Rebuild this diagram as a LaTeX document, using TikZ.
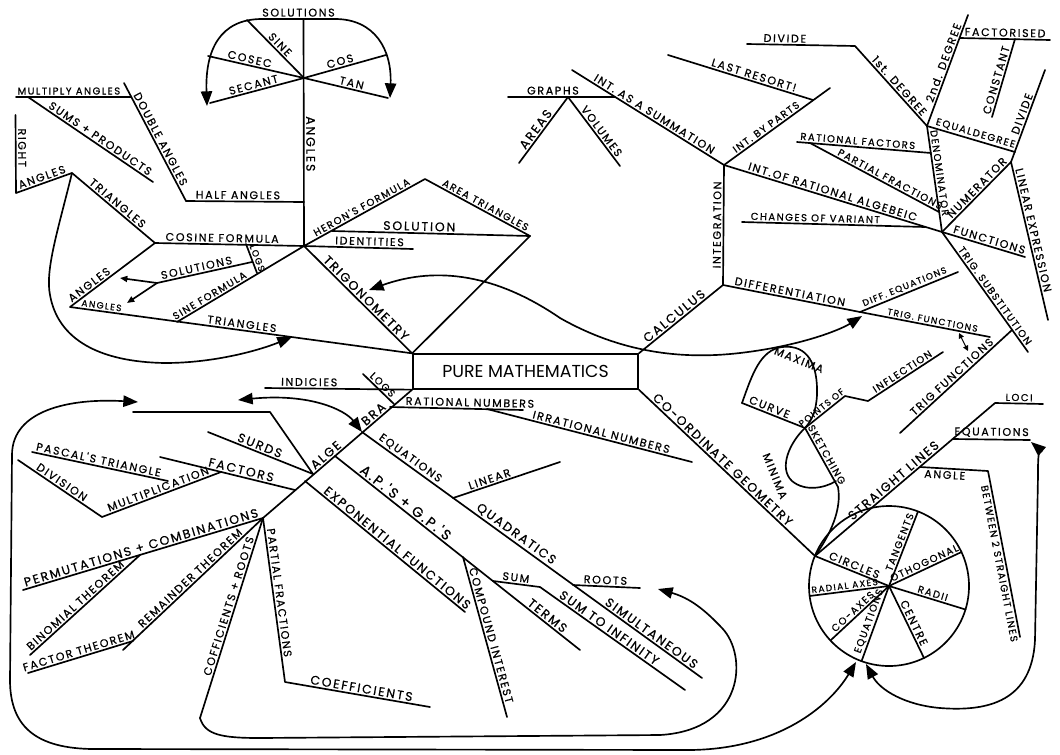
\documentclass[tikz,border=0pt]{standalone}
\usepackage{fontspec}
\newfontfamily\hand[LetterSpace=15,FakeBold=0.6]{Poppins}
\newfontfamily\handplain{Poppins}
\usetikzlibrary{arrows.meta}
\begin{document}
\begin{tikzpicture}[x=0.75pt,y=-0.75pt, line width=1.25pt, line cap=round, line join=round,
  lbl/.style={font=\hand\fontsize{8.3}{9}\selectfont, inner sep=1.2pt, sloped, above},
  md/.style={font=\hand\fontsize{7.5}{8}\selectfont},
  sm/.style={font=\hand\fontsize{6.8}{8}\selectfont},
  bg/.style={font=\hand\fontsize{9.3}{10}\selectfont},
  lg/.style={font=\hand\fontsize{10.5}{11}\selectfont},
  free/.style={font=\hand\fontsize{8.3}{9}\selectfont, inner sep=0pt},
  arr/.style={-{Triangle[length=11pt,width=8.5pt]}},
  arrb/.style={{Triangle[length=11pt,width=8.5pt]}-{Triangle[length=11pt,width=8.5pt]}},
  sarr/.style={-{Triangle[length=5.5pt,width=4.5pt]}}]
\fill[white] (0,0) rectangle (1060,754);
\useasboundingbox (0,0) rectangle (1060,754);

% ---------- centre ----------
\node[draw, minimum width=168.75pt, minimum height=26pt, inner sep=0pt,
      font=\handplain\fontsize{13}{14}\selectfont] (pm) at (525.5,371.5) {PURE MATHEMATICS};

% ---------- trigonometry ----------
\coordinate (T1) at (304,246);
\coordinate (Atop) at (303.5,19);
\coordinate (A1) at (304,78);
\coordinate (Sine) at (247,20);
\coordinate (Cosec) at (208,56);
\coordinate (Secant) at (210,103);
\coordinate (Cos) at (386,55);
\coordinate (Tan) at (388,98);
\coordinate (H1) at (304,202);
\coordinate (H2) at (186,201);
\coordinate (H3) at (124,83);
\coordinate (M1) at (131,97);
\coordinate (M2) at (16,97);
\coordinate (P1) at (28,97);
\coordinate (P2) at (153,182);
\coordinate (C1) at (155,243);
\coordinate (I1) at (413,249);
\coordinate (R1) at (72,173);
\coordinate (R2) at (16,193);
\coordinate (R3) at (15.5,115);
\coordinate (G1) at (70,307);
\coordinate (F1) at (177,322);
\coordinate (L1) at (246,244);
\coordinate (L2) at (257,273);
\coordinate (SO1) at (252,262);
\coordinate (SO2) at (157,283);
\coordinate (SOa) at (120,278);
\coordinate (SOb) at (127,303);
\coordinate (D1) at (425,179);
\coordinate (D2) at (530,236);
\coordinate (S0) at (332,231);
\coordinate (ARt) at (292,337);
\coordinate (FanL) at (207,106);
\coordinate (FanR) at (390,98);

\draw (Atop) -- node[lbl,bg,pos=.55]{ANGLES} (T1);
\draw (A1) -- node[lbl,pos=.5]{SINE} (Sine);
\draw (A1) -- node[lbl,pos=.58]{COSEC} (Cosec);
\draw (A1) -- node[lbl,pos=.52]{SECANT} (Secant);
\draw (A1) -- node[lbl,pos=.46]{COS} (Cos);
\draw (A1) -- node[lbl,pos=.55]{TAN} (Tan);
\draw[arrb] (FanL) .. controls (205,50) and (220,19) .. (262,19) -- node[lbl]{SOLUTIONS} (335,19) .. controls (375,19) and (392,50) .. (FanR);
\draw (H1) -- node[lbl,pos=.56]{HALF ANGLES} (H2);
\draw (H3) -- node[lbl,pos=.5]{DOUBLE ANGLES} (H2);
\draw (M2) -- node[lbl,md,pos=.46]{MULTIPLY ANGLES} (M1);
\draw (P1) -- node[lbl,pos=.55]{SUMS + PRODUCTS} (P2);
\draw (R3) -- node[lbl,pos=.42]{RIGHT} (R2) -- node[lbl,pos=.5]{ANGLES} (R1) -- node[lbl,pos=.5]{TRIANGLES} (C1);
\draw (C1) -- node[lbl,pos=.45]{COSINE FORMULA} (T1) -- node[lbl,pos=.6]{IDENTITIES} (I1);
\draw (T1) -- node[lbl,md,pos=.5]{HERON'S FORMULA} (D1) -- node[lbl,md,pos=.55]{AREA TRIANGLES} (D2) -- (pm.north west);
\draw (S0) -- node[lbl,bg,pos=.44]{SOLUTION} (D2);
\draw (T1) -- node[lbl,bg,pos=.53]{TRIGONOMETRY} (pm.north west);
\draw (C1) -- node[lbl,pos=.73]{ANGLES} (G1) -- node[lbl,sm,pos=.09]{ANGLES} node[lbl,pos=.5]{TRIANGLES} (pm.north west);
\draw (T1) -- node[lbl,md,pos=.72]{SINE FORMULA} (F1);
\draw (L1) -- node[lbl,sm,pos=.55]{LOGS} (L2);
\draw (SO1) -- node[lbl,pos=.57]{SOLUTIONS} (SO2);
\draw[sarr] (SO2) -- (SOa);
\draw[sarr] (SO2) -- (SOb);
\draw[arr] (R1) .. controls (58,230) and (45,270) .. (50,295) .. controls (58,340) and (100,362) .. (165,363) .. controls (215,363) and (260,350) .. (ARt);

% ---------- calculus ----------
\coordinate (I1c) at (723,285);
\coordinate (I2) at (724,165);
\coordinate (U1) at (572,70);
\coordinate (GR0) at (508,97);
\coordinate (GR1) at (615,97);
\coordinate (GA) at (568,97);
\coordinate (AR) at (519,163);
\coordinate (VO) at (620,166);
\coordinate (BP) at (830,88);
\coordinate (LR0) at (668,55);
\coordinate (LR1) at (813,100);
\coordinate (J2) at (942,232);
\coordinate (CV0) at (742,222);
\coordinate (CV1) at (925,227);
\coordinate (DN0) at (927,126);
\coordinate (RF0) at (797,142);
\coordinate (RF1) at (931,153);
\coordinate (PF0) at (810,143);
\coordinate (PF1) at (939,212);
\coordinate (FD1) at (855,46);
\coordinate (DV2) at (747,44);
\coordinate (SD1) at (968,15);
\coordinate (FA0) at (960,38);
\coordinate (FA1) at (1050,40);
\coordinate (CN0) at (1015,39);
\coordinate (CN1) at (992,117);
\coordinate (ED1) at (1015,152);
\coordinate (DV1) at (1045,70);
\coordinate (NU1) at (1011,162);
\coordinate (LE1) at (1048,320);
\coordinate (FN1) at (1025,257);
\coordinate (TS1) at (1028,352);
\coordinate (TF0) at (1012,330);
\coordinate (TF1) at (900,433);
\coordinate (DF1) at (860,312);
\coordinate (DE1) at (958,272);
\coordinate (TG1) at (990,337);
\coordinate (DA0) at (959,333);
\coordinate (DA1) at (968,351);
\coordinate (SC0) at (369,290);
\coordinate (SC1) at (862,316);

\draw (pm.north east) -- node[lbl,bg,pos=.47]{CALCULUS} (I1c) -- node[lbl,pos=.5]{INTEGRATION} (I2);
\draw (I2) -- node[lbl,pos=.48]{INT. AS A SUMMATION} (U1);
\draw (GR0) -- node[lbl,pos=.42]{GRAPHS} (GR1);
\draw (GA) -- node[lbl,bg,pos=.55]{AREAS} (AR);
\draw (GA) -- node[lbl,pos=.55]{VOLUMES} (VO);
\draw (I2) -- node[lbl,md,pos=.43]{INT. BY PARTS} (BP);
\draw (LR0) -- node[lbl,pos=.58]{LAST RESORT!} (LR1);
\draw (I2) -- node[lbl,pos=.49]{INT.OF RATIONAL ALGEBEIC} (J2);
\draw (CV0) -- node[lbl,md,pos=.4]{CHANGES OF VARIANT} (CV1);
\draw (DN0) -- node[lbl,md,pos=.45]{DENOMINATOR} (J2);
\draw (RF0) -- node[lbl,md,pos=.45]{RATIONAL FACTORS} (RF1);
\draw (PF0) -- node[lbl,md,pos=.6]{PARTIAL FRACTIONS} (PF1);
\draw (DN0) -- node[lbl,pos=.45]{1st. DEGREE} (FD1) -- node[lbl,pos=.65]{DIVIDE} (DV2);
\draw (DN0) -- node[lbl,pos=.55]{2nd. DEGREE} (SD1);
\draw (FA0) -- node[lbl,pos=.5]{FACTORISED} (FA1);
\draw (CN0) -- node[lbl,pos=.55]{CONSTANT} (CN1);
\draw (DN0) -- node[lbl,md,pos=.53]{EQUALDEGREE} (ED1);
\draw (DV1) -- node[lbl,pos=.5]{DIVIDE} (NU1);
\draw (J2) -- node[lbl,pos=.57]{NUMERATOR} (NU1) -- node[lbl,pos=.44]{LINEAR EXPRESSION} (LE1);
\draw (J2) -- node[lbl,pos=.55]{FUNCTIONS} (FN1);
\draw (J2) -- node[lbl,md,pos=.56]{TRIG. SUBSTITUTION} (TS1);
\draw (TF0) -- node[lbl,pos=.5]{TRIG FUNCTIONS} (TF1);
\draw (I1c) -- node[lbl,pos=.48]{DIFFERENTIATION} (DF1);
\draw (DF1) -- node[lbl,sm,pos=.48]{DIFF. EQUATIONS} (DE1);
\draw (DF1) -- node[lbl,sm,pos=.55]{TRIG. FUNCTIONS} (TG1);
\draw[line width=.8pt,{Triangle[length=4pt,width=4pt]}-{Triangle[length=4pt,width=4pt]}] (DA0) -- (DA1);
\draw[arrb] (SC0) .. controls (430,268) and (490,270) .. (560,318) .. controls (620,352) and (680,360) .. (740,353) .. controls (800,346) and (840,330) .. (SC1);

% ---------- curve sketching ----------
\coordinate (K0) at (742,403);
\coordinate (X) at (805,428);
\coordinate (SK1) at (838,487);
\coordinate (PI1) at (845,396);
\coordinate (PI2) at (868,401);
\coordinate (PI3) at (943,352);
\coordinate (CI1) at (815,556);
\draw (K0) .. controls (752,375) and (760,350) .. (782,347) .. controls (808,344) and (818,365) .. (817,395) .. controls (816,412) and (812,420) .. (X) .. controls (790,442) and (778,468) .. (792,481) .. controls (805,492) and (825,488) .. (836,481);
\draw (K0) -- node[lbl,pos=.4]{CURVE} (X) -- node[lbl,md,pos=.5]{SKETCHING} (SK1) .. controls (842,510) and (830,535) .. (CI1);
\draw (X) -- node[lbl,sm,pos=.5]{POINTS OF} (PI1) -- (PI2) -- node[lbl,md,pos=.5]{INFLECTION} (PI3);
\node[free,rotate=-22] (maxima) at (799,360) {MAXIMA};
\node[free,rotate=-68] (minima) at (775,476) {MINIMA};

% ---------- co-ordinate geometry ----------
\coordinate (HB) at (889,586);
\coordinate (SpT) at (918,511.5);
\coordinate (SpO) at (961.5,552);
\coordinate (SpR) at (965.5,609.5);
\coordinate (SpCe) at (924,658);
\coordinate (SpE) at (861.6,661);
\coordinate (SpCo) at (830.4,640.5);
\coordinate (SpRa) at (809.6,596);
\coordinate (SL1) at (995,403);
\coordinate (LC1) at (1043,404);
\coordinate (EQ0) at (953,439);
\coordinate (EQ1) at (1030,440);
\coordinate (AB0) at (920,467);
\coordinate (AB1) at (988,471);
\coordinate (AB2) at (1020,637);
\coordinate (RLs) at (1031,442);

\draw (pm.south east) -- node[lbl,bg,pos=.45]{CO-ORDINATE GEOMETRY} (CI1);
\draw (HB) circle[radius=60pt];
\draw (HB) -- node[lbl,pos=.5]{CIRCLES} (CI1);
\draw (HB) -- node[lbl,md,pos=.56]{TANGENTS} (SpT);
\draw (HB) -- node[lbl,md,pos=.52]{OTHOGONAL} (SpO);
\draw (HB) -- node[lbl,md,pos=.55]{RADII} (SpR);
\draw (HB) -- node[lbl,pos=.55]{CENTRE} (SpCe);
\draw (HB) -- node[lbl,md,pos=.5]{EQUATIONS} (SpE);
\draw (HB) -- node[lbl,md,pos=.55]{CO-AXES} (SpCo);
\draw (HB) -- node[lbl,sm,pos=.55]{RADIAL AXES} (SpRa);
\draw (CI1) -- node[lbl,bg,pos=.46]{STRAIGHT LINES} (SL1) -- node[lbl,md,pos=.5]{LOCI} (LC1);
\draw (EQ0) -- node[lbl,pos=.5]{EQUATIONS} (EQ1);
\draw (AB0) -- node[lbl,below,pos=.37]{ANGLE} (AB1) -- node[lbl,md,below,pos=.55]{BETWEEN 2 STRAIGHT LINES} (AB2);
\draw[arrb] (RLs) .. controls (1038,448) and (1038,460) .. (1038,475) -- (1035,640) .. controls (1032,700) and (990,712) .. (940,708) .. controls (905,705) and (880,690) .. (866,664);

% ---------- algebra ----------
\coordinate (AJ) at (263,518);
\coordinate (IN0) at (265,388);
\coordinate (LG0) at (363,374);
\coordinate (LG1) at (394,404);
\coordinate (RN0) at (390,407);
\coordinate (RN1) at (523,410);
\coordinate (IR0) at (487,409);
\coordinate (IR1) at (692,462);
\coordinate (EJ) at (362,432);
\coordinate (EQE) at (702,678);
\coordinate (LN0) at (453,498);
\coordinate (LN1) at (560,462);
\coordinate (RT0) at (573,585);
\coordinate (RT1) at (640,588);
\coordinate (AP0) at (335,456);
\coordinate (AP1) at (580,650);
\coordinate (CP0) at (463,557);
\coordinate (CP1) at (507,717);
\coordinate (SM0) at (493,581);
\coordinate (SM1) at (540,587);
\coordinate (SI1) at (685,690);
\coordinate (EX0) at (305,481);
\coordinate (EX1) at (465,612);
\coordinate (SU0) at (208,432);
\coordinate (SU1) at (313,474);
\coordinate (UB1) at (270,412);
\coordinate (UB2) at (133,412);
\coordinate (FC0) at (160,457);
\coordinate (FC1) at (295,490);
\coordinate (MU0) at (102,517);
\coordinate (MU1) at (221,472);
\coordinate (DV0) at (18,460);
\coordinate (PS0) at (32,452);
\coordinate (PS1) at (168,481);
\coordinate (PC1) at (23,590);
\coordinate (BT0) at (140,555);
\coordinate (BT1) at (30,655);
\coordinate (RM1) at (123,650);
\coordinate (FT0) at (133,641);
\coordinate (FT1) at (28,673);
\coordinate (CR1) at (200,718);
\coordinate (PF2) at (285,682);
\coordinate (CO1) at (430,707);
\coordinate (AL2) at (238,400);
\coordinate (OLs) at (138,402);
\coordinate (OLe) at (856,662);
\coordinate (ILe) at (658,589);

\draw (pm.south west) -- node[lbl,bg,pos=.23]{BRA} node[lbl,bg,pos=.55]{ALGE} (AJ);
\draw (IN0) -- node[lbl,pos=.3]{INDICIES} (pm.south west);
\draw (LG0) -- node[lbl,md,pos=.5]{LOGS} (LG1);
\draw (RN0) -- node[lbl,pos=.6]{RATIONAL NUMBERS} (RN1);
\draw (IR0) -- node[lbl,pos=.55]{IRRATIONAL NUMBERS} (IR1);
\draw (EJ) -- node[lbl,pos=.13]{EQUATIONS} node[lbl,bg,pos=.44]{QUADRATICS} node[lbl,bg,pos=.84]{SIMULTANEOUS} (EQE);
\draw (LN0) -- node[lbl,pos=.36]{LINEAR} (LN1);
\draw (RT0) -- node[lbl,pos=.48]{ROOTS} (RT1);
\draw (AP0) -- node[lbl,lg,pos=.27]{A.P.'S + G.P.'S} node[lbl,bg,pos=.85]{TERMS} (AP1);
\draw (CP0) -- node[lbl,pos=.5]{COMPOUND INTEREST} (CP1);
\draw (SM0) -- node[lbl,pos=.47]{SUM} (SM1) -- node[lbl,bg,pos=.45]{SUM TO INFINITY} (SI1);
\draw (EX0) -- node[lbl,bg,pos=.55]{EXPONENTIAL FUNCTIONS} (EX1);
\draw (SU0) -- node[lbl,bg,pos=.47]{SURDS} (SU1);
\draw (SU1) -- (UB1) -- (UB2);
\draw (FC0) -- node[lbl,bg,pos=.59]{FACTORS} (FC1);
\draw (DV0) -- node[lbl,pos=.48]{DIVISION} (MU0) -- node[lbl,pos=.49]{MULTIPLICATION} (MU1);
\draw (PS0) -- node[lbl,pos=.48]{PASCAL'S TRIANGLE} (PS1);
\draw (AJ) -- node[lbl,bg,pos=.5]{PERMUTATIONS + COMBINATIONS} (PC1);
\draw (BT0) -- node[lbl,pos=.55]{BINOMIAL THEOREM} (BT1);
\draw (AJ) -- node[lbl,pos=.49]{REMAINDER THEOREM} (RM1);
\draw (FT0) -- node[lbl,pos=.5]{FACTOR THEOREM} (FT1);
\draw (AJ) -- node[lbl,pos=.45]{COFFICIENTS + ROOTS} (CR1);
\draw (AJ) -- node[lbl,pos=.46]{PARTIAL FRACTIONS} (PF2) -- node[lbl,bg,pos=.52]{COEFFICIENTS} (CO1);
\draw[arrb] (EJ) .. controls (345,410) and (310,393) .. (AL2);
\draw[arrb] (OLs) .. controls (70,398) and (12,410) .. (12,455) -- (10,680) .. controls (10,730) and (40,750) .. (100,749) -- (690,750) .. controls (780,749) and (830,705) .. (OLe);
\draw[arr] (CR1) .. controls (205,735) and (222,738) .. (260,738) -- (660,735) .. controls (745,730) and (748,655) .. (722,628) .. controls (705,610) and (690,598) .. (ILe);
\end{tikzpicture}
\end{document}
